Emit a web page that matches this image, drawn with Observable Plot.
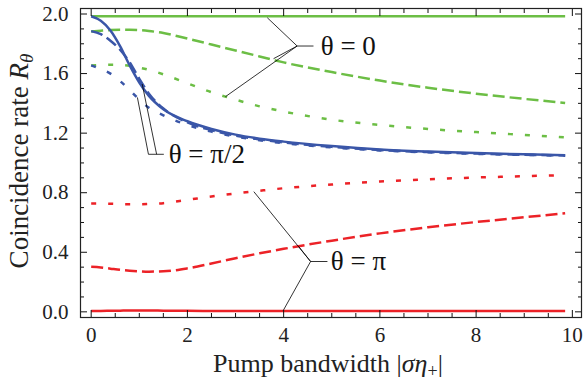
<!DOCTYPE html>
<html><head><meta charset="utf-8">
<script src="https://cdn.jsdelivr.net/npm/d3@7"></script>
<script src="https://cdn.jsdelivr.net/npm/@observablehq/plot@0.6"></script>
<style>
body{margin:0;background:#fff}
svg, svg text{font-family:"Liberation Serif","Times New Roman",serif !important}
text{white-space:pre}
</style>
</head><body><div id="chart"></div>
<script>
// ---- data ----
const xGrid       = [0, 0.2, 0.4, 0.6, 0.8, 1.0, 1.2, 1.5, 2, 2.5, 3, 3.5, 4, 5, 6, 7, 8, 9, 9.85];
const greenSolid  = [1.985,1.985,1.985,1.985,1.985,1.985,1.985,1.985,1.985,1.985,1.985,1.985,1.985,1.985,1.985,1.985,1.985,1.985,1.985];
const greenDashed = [1.883,1.888,1.892,1.894,1.894,1.892,1.886,1.872,1.835,1.795,1.755,1.715,1.675,1.61,1.553,1.505,1.465,1.43,1.403];
const greenDotted = [1.655,1.658,1.66,1.658,1.652,1.64,1.625,1.595,1.535,1.475,1.425,1.38,1.345,1.29,1.255,1.228,1.207,1.188,1.172];
const blueSolid   = [1.985,1.955,1.89,1.785,1.655,1.54,1.45,1.36,1.28,1.228,1.19,1.163,1.143,1.113,1.09,1.076,1.066,1.058,1.052];
const blueDashed  = [1.885,1.865,1.82,1.76,1.675,1.565,1.465,1.365,1.272,1.22,1.184,1.158,1.138,1.108,1.087,1.073,1.063,1.055,1.05];
const blueDotted  = [1.655,1.63,1.6,1.55,1.49,1.425,1.37,1.32,1.255,1.21,1.177,1.152,1.133,1.104,1.084,1.071,1.061,1.054,1.049];
const redSolid    = [0.006,0.006,0.007,0.008,0.009,0.009,0.009,0.008,0.007,0.006,0.006,0.006,0.006,0.006,0.006,0.006,0.006,0.006,0.006];
const redDashed   = [0.302,0.298,0.29,0.282,0.276,0.272,0.27,0.272,0.292,0.325,0.36,0.393,0.423,0.478,0.527,0.568,0.603,0.635,0.662];
const redDotted   = [0.727,0.727,0.726,0.724,0.723,0.723,0.725,0.73,0.752,0.775,0.795,0.813,0.83,0.855,0.875,0.89,0.902,0.911,0.918];

const xTicksMajor = [0, 2, 4, 6, 8, 10];
const xTicksMinor = [0.5,1,1.5,2.5,3,3.5,4.5,5,5.5,6.5,7,7.5,8.5,9,9.5];
const yTicksMajor = [0, 0.4, 0.8, 1.2, 1.6, 2.0];
const yTicksMinor = [0.1,0.2,0.3,0.5,0.6,0.7,0.9,1.0,1.1,1.3,1.4,1.5,1.7,1.8,1.9];

// callout annotations
const calloutText  = ["θ = 0", "θ = π/2", "θ = π"];
const calloutTextX = [4.77, 1.61, 4.98];
const calloutTextY = [1.785, 1.058, 0.338];
const leaderX1 = [3.66, 3.79, 2.79, 4.28, 0.96, 1.06, 1.19, 3.99, 4.31, 3.38, 4.56];
const leaderY1 = [1.975, 1.70, 1.445, 1.785, 1.44, 1.53, 1.058, 0.008, 0.44, 0.807, 0.338];
const leaderX2 = [4.28, 4.28, 4.28, 4.62, 1.19, 1.36, 1.51, 4.56, 4.56, 4.56, 4.91];
const leaderY2 = [1.785, 1.785, 1.785, 1.785, 1.058, 1.058, 1.058, 0.338, 0.338, 0.338, 0.338];

// ---- styles ----
const GREEN = "#6cbe45", BLUE = "#3a56a8", RED = "#ec2227";
const DASH = "12,5", DOT = "5,12";
const series = [
  {values: greenSolid,  stroke: GREEN, dash: null},
  {values: greenDashed, stroke: GREEN, dash: DASH},
  {values: greenDotted, stroke: GREEN, dash: DOT},
  {values: redSolid,    stroke: RED,   dash: null},
  {values: redDashed,   stroke: RED,   dash: DASH},
  {values: redDotted,   stroke: RED,   dash: DOT},
  {values: blueDotted,  stroke: BLUE,  dash: DOT},
  {values: blueDashed,  stroke: BLUE,  dash: DASH},
  {values: blueSolid,   stroke: BLUE,  dash: null},
];

const lineMarks = series.map(s => Plot.line(xGrid.map((x, i) => ({x, y: s.values[i]})), {
  x: "x", y: "y", stroke: s.stroke, strokeWidth: 2.5, curve: "monotone-x",
  strokeDasharray: s.dash ?? undefined, strokeLinecap: "butt"
}));

const leaders = leaderX1.map((d, i) => ({x1: leaderX1[i], y1: leaderY1[i], x2: leaderX2[i], y2: leaderY2[i]}));
const labels = calloutText.map((t, i) => ({t, x: calloutTextX[i], y: calloutTextY[i]}));

const TICK = "#111";
const noText = () => "";
const plot = Plot.plot({
  width: 585, height: 382,
  marginLeft: 80, marginRight: 4, marginTop: 8, marginBottom: 65,
  style: "font-family: 'Liberation Serif', serif; background: #fff; color: #222;",
  x: {domain: [-0.222, 10.19], label: null},
  y: {domain: [-0.038, 2.037], label: null},
  marks: [
    ...lineMarks,
    Plot.link(leaders, {x1: "x1", y1: "y1", x2: "x2", y2: "y2", stroke: "#000", strokeWidth: 0.8}),
    Plot.text(labels, {x: "x", y: "y", text: "t", textAnchor: "start", lineAnchor: "middle",
      fontSize: 27, fill: "#111", ariaLabel: "callout"}),
    // tick labels
    Plot.axisX(xTicksMajor, {anchor: "bottom", tickSize: 0, tickPadding: 10, fontSize: 21, tickFormat: d3.format("d"), fill: "#222", label: null}),
    Plot.axisY(yTicksMajor, {anchor: "left", tickSize: 0, tickPadding: 12, fontSize: 21, tickFormat: d3.format(".1f"), fill: "#222", label: null}),
    // inward ticks on all four sides
    Plot.axisX(xTicksMajor, {anchor: "bottom", tickSize: 7, dy: -7, tickFormat: noText, stroke: TICK, label: null}),
    Plot.axisX(xTicksMinor, {anchor: "bottom", tickSize: 4, dy: -4, tickFormat: noText, stroke: TICK, label: null}),
    Plot.axisX(xTicksMajor, {anchor: "top", tickSize: 7, dy: 7, tickFormat: noText, stroke: TICK, label: null}),
    Plot.axisX(xTicksMinor, {anchor: "top", tickSize: 4, dy: 4, tickFormat: noText, stroke: TICK, label: null}),
    Plot.axisY(yTicksMajor, {anchor: "left", tickSize: 7, dx: 7, tickFormat: noText, stroke: TICK, label: null}),
    Plot.axisY(yTicksMinor, {anchor: "left", tickSize: 4, dx: 4, tickFormat: noText, stroke: TICK, label: null}),
    Plot.axisY(yTicksMajor, {anchor: "right", tickSize: 7, dx: -7, tickFormat: noText, stroke: TICK, label: null}),
    Plot.axisY(yTicksMinor, {anchor: "right", tickSize: 4, dx: -4, tickFormat: noText, stroke: TICK, label: null}),
    Plot.frame({stroke: "#222", strokeWidth: 1.2})
  ]
});

const svg = d3.select(plot.tagName === "svg" ? plot : plot.querySelector("svg"));

// math styling for callout labels
svg.selectAll('g[aria-label="callout"] text').each(function() {
  const el = d3.select(this);
  const s = el.text();
  el.text(null);
  for (const ch of s) {
    const ts = el.append("tspan").text(ch);
    if (ch === "θ" || ch === "π") ts.attr("font-style", "italic");
  }
});

// axis titles
const yl = svg.append("text")
  .attr("transform", "translate(28,161) rotate(-90)")
  .attr("text-anchor", "middle").attr("font-size", 27).attr("fill", "#222");
yl.append("tspan").text("Coincidence rate ");
yl.append("tspan").attr("font-style", "italic").text("R");
yl.append("tspan").attr("font-style", "italic").attr("font-size", 19).attr("dy", 5).text("θ");

const xl = svg.append("text")
  .attr("x", 328).attr("y", 372)
  .attr("text-anchor", "middle").attr("font-size", 26).attr("fill", "#222");
xl.append("tspan").text("Pump bandwidth |");
xl.append("tspan").attr("font-style", "italic").text("ση");
xl.append("tspan").attr("font-size", 18).attr("dy", 5).text("+");
xl.append("tspan").attr("dy", -5).text("|");

document.getElementById("chart").appendChild(plot);
</script>
</body></html>
